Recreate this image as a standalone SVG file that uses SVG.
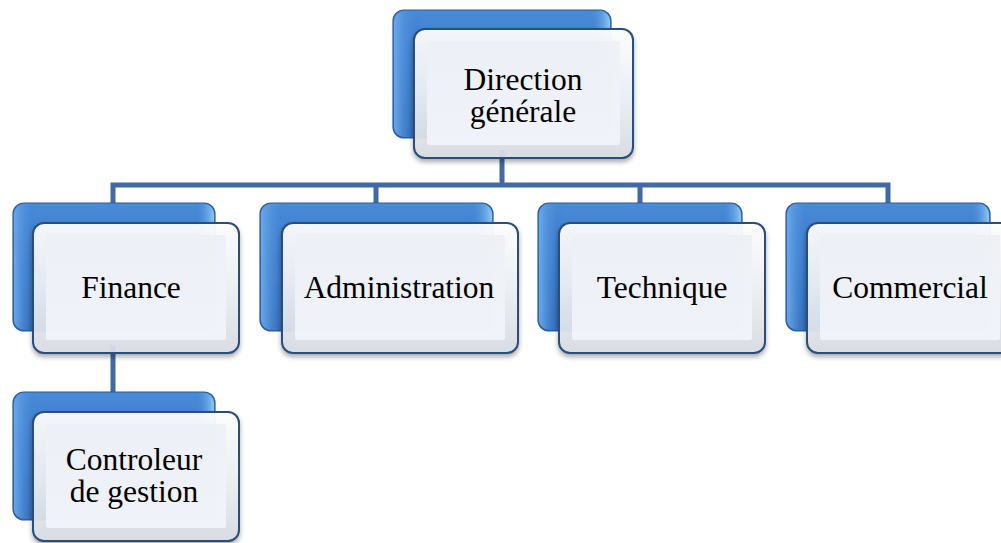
<svg xmlns="http://www.w3.org/2000/svg" width="1001" height="543" viewBox="0 0 1001 543">
<defs>
<linearGradient id="gBlue" x1="0" y1="0" x2="0" y2="1">
<stop offset="0" stop-color="#4a8bd8"/>
<stop offset="0.5" stop-color="#3575c6"/>
<stop offset="1" stop-color="#2b63ad"/>
</linearGradient>
<linearGradient id="gBlueEdge" x1="0" y1="0" x2="1" y2="0">
<stop offset="0" stop-color="#6aa8ea"/>
<stop offset="0.12" stop-color="#3a7ccc" stop-opacity="0"/>
<stop offset="0.9" stop-color="#3a7ccc" stop-opacity="0"/>
<stop offset="1" stop-color="#8cc8f5"/>
</linearGradient>
<linearGradient id="gWhite" x1="0" y1="0" x2="0" y2="1">
<stop offset="0" stop-color="#ffffff"/>
<stop offset="0.5" stop-color="#eef1f6"/>
<stop offset="1" stop-color="#d9dde4"/>
</linearGradient>
<linearGradient id="gInner" x1="0" y1="0" x2="0" y2="1">
<stop offset="0" stop-color="#edf0f5"/>
<stop offset="1" stop-color="#f1f4fa"/>
</linearGradient>
<filter id="sh" x="-10%" y="-10%" width="120%" height="125%">
<feGaussianBlur in="SourceAlpha" stdDeviation="2.5"/>
<feOffset dx="0" dy="3" result="b"/>
<feComponentTransfer><feFuncA type="linear" slope="0.35"/></feComponentTransfer>
<feMerge><feMergeNode/><feMergeNode in="SourceGraphic"/></feMerge>
</filter>
</defs>
<style>
.back{fill:url(#gBlue);stroke:#2c5b9a;stroke-width:1.2}
.backEdge{fill:url(#gBlueEdge)}
.front{fill:url(#gWhite);stroke:#2a4d7a;stroke-width:2;fill-opacity:0.93}
.inner{fill:url(#gInner);fill-opacity:0.95}
.lbl{font-family:"Liberation Serif","Times New Roman",serif;font-size:31.5px;fill:#000;text-anchor:middle}
.conn{fill:none;stroke:#4169a3;stroke-width:5}
</style>

<g id="connectors">
<path class="conn" d="M502 150 V185 M113 203 V185 H888 V203 M376 185 V203 M640 185 V203 M113 345 V392"/>
</g>

<g id="n-direction">
<rect class="back" x="393" y="10" width="218" height="128" rx="11"/>
<rect class="backEdge" x="394" y="11" width="216" height="126" rx="10"/>
<g filter="url(#sh)">
<rect class="front" x="414" y="29" width="219" height="129" rx="11"/>
<rect class="inner" x="427" y="41" width="193" height="104" rx="2"/>
</g>
<text class="lbl" x="523" y="90">Direction</text>
<text class="lbl" x="523" y="122">générale</text>
</g>

<g id="n-finance">
<rect class="back" x="13" y="203" width="202" height="128" rx="11"/>
<rect class="backEdge" x="14" y="204" width="200" height="126" rx="10"/>
<g filter="url(#sh)">
<rect class="front" x="33" y="223" width="206" height="130" rx="11"/>
<rect class="inner" x="46" y="235" width="180" height="105" rx="2"/>
</g>
<text class="lbl" x="131" y="298">Finance</text>
</g>

<g id="n-administration">
<rect class="back" x="260" y="203" width="233" height="128" rx="11"/>
<rect class="backEdge" x="261" y="204" width="231" height="126" rx="10"/>
<g filter="url(#sh)">
<rect class="front" x="282" y="223" width="236" height="130" rx="11"/>
<rect class="inner" x="295" y="235" width="210" height="105" rx="2"/>
</g>
<text class="lbl" x="399" y="298">Administration</text>
</g>

<g id="n-technique">
<rect class="back" x="538" y="203" width="204" height="128" rx="11"/>
<rect class="backEdge" x="539" y="204" width="202" height="126" rx="10"/>
<g filter="url(#sh)">
<rect class="front" x="559" y="223" width="206" height="130" rx="11"/>
<rect class="inner" x="572" y="235" width="180" height="105" rx="2"/>
</g>
<text class="lbl" x="662" y="298">Technique</text>
</g>

<g id="n-commercial">
<rect class="back" x="786" y="203" width="204" height="128" rx="11"/>
<rect class="backEdge" x="787" y="204" width="202" height="126" rx="10"/>
<g filter="url(#sh)">
<rect class="front" x="807" y="223" width="206" height="130" rx="11"/>
<rect class="inner" x="820" y="235" width="180" height="105" rx="2"/>
</g>
<text class="lbl" x="910" y="298">Commercial</text>
</g>

<g id="n-controleur">
<rect class="back" x="13" y="392" width="202" height="128" rx="11"/>
<rect class="backEdge" x="14" y="393" width="200" height="126" rx="10"/>
<g filter="url(#sh)">
<rect class="front" x="33" y="412" width="206" height="129" rx="11"/>
<rect class="inner" x="46" y="424" width="180" height="104" rx="2"/>
</g>
<text class="lbl" x="134" y="470">Controleur</text>
<text class="lbl" x="134" y="502">de gestion</text>
</g>
</svg>
